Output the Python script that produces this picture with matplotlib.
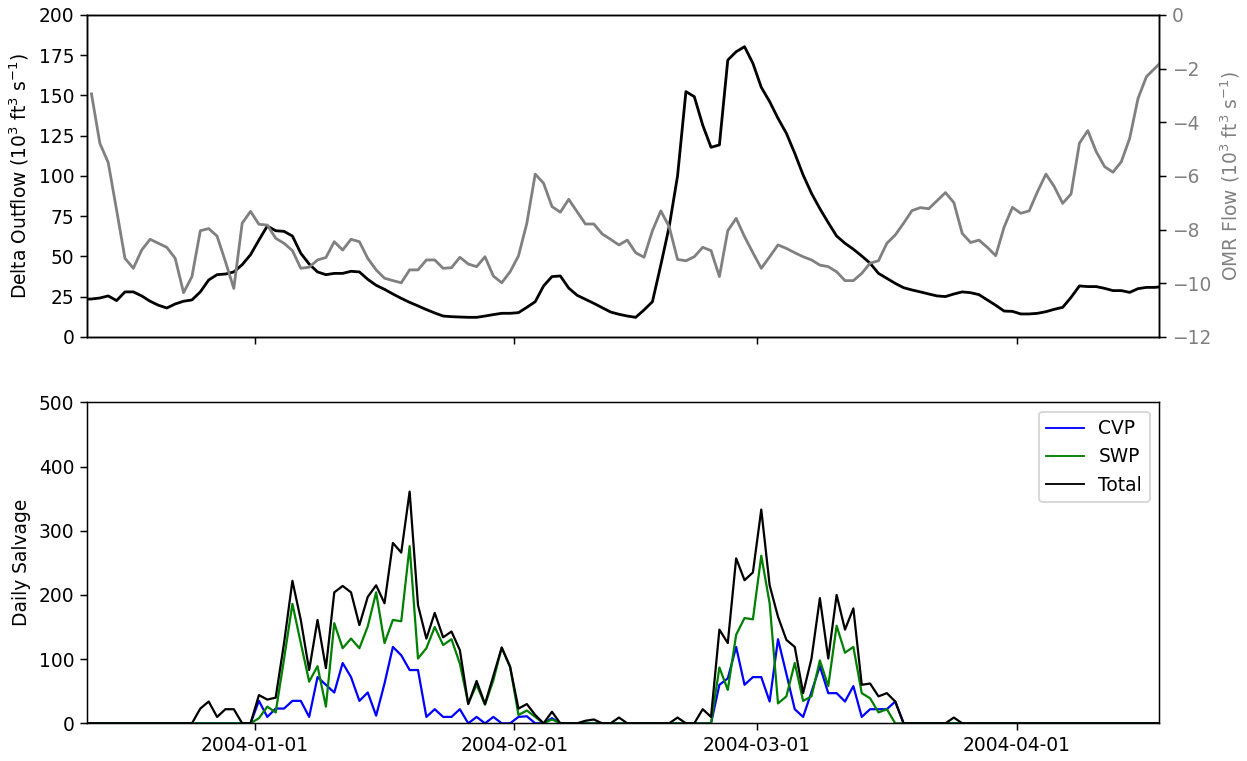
import numpy as np
import pandas as pd
import matplotlib
matplotlib.use("Agg")
import matplotlib.pyplot as plt
import matplotlib.dates as mdates
from matplotlib.lines import Line2D

# daily values, first entry 2003-12-11 (noon), last 2004-04-18 (noon)
dates = pd.date_range("2003-12-11 12:00", periods=130, freq="D")

delta_outflow = [
    23.4,
    23.6, 24.2, 25.5, 22.6, 28.0, 28.0, 25.5, 22.2, 19.7, 18.0,
    20.5, 22.2, 23.0, 28.0, 35.4, 38.7, 39.1, 40.4, 44.9, 51.1,
    60.2, 68.9, 66.0, 65.6, 62.7, 52.0, 45.3, 40.4, 38.7, 39.5,
    39.5, 40.8, 40.4, 35.8, 32.1, 29.6, 26.7, 24.0, 21.5, 19.3,
    17.0, 14.9, 13.0, 12.6, 12.4, 12.2, 12.2, 13.0, 13.9, 14.7,
    14.7, 15.1, 18.4, 21.9, 31.7, 37.5, 37.9, 30.4, 25.9, 23.4,
    20.9, 18.2, 15.5, 14.1, 13.0, 12.2, 16.8, 21.9, 44.7, 68.5,
    100.0, 152.4, 149.3, 131.7, 117.8, 119.3, 172.0, 177.2, 180.3, 170.0,
    155.1, 146.2, 135.8, 126.5, 114.1, 100.6, 89.2, 79.7, 71.0, 62.7,
    58.2, 54.5, 50.3, 45.8, 39.5, 36.4, 33.3, 30.6, 29.2, 28.0,
    26.7, 25.5, 25.1, 26.7, 28.0, 27.5, 26.3, 23.0, 19.7, 16.1,
    15.9, 14.3, 14.3, 14.7, 15.7, 17.2, 18.4, 24.6, 31.7, 31.3,
    31.3, 30.2, 28.8, 28.8, 27.7, 30.0, 30.8, 30.8, 31.3,
]

omr_flow = [
    np.nan,
    -2.94, -4.78, -5.50, -7.27, -9.07, -9.44, -8.76, -8.36, -8.51, -8.66,
    -9.07, -10.35, -9.75, -8.04, -7.96, -8.24, -9.19, -10.19, -7.76, -7.32,
    -7.80, -7.83, -8.32, -8.51, -8.78, -9.44, -9.40, -9.13, -9.04, -8.45,
    -8.76, -8.36, -8.45, -9.07, -9.50, -9.81, -9.90, -9.98, -9.50, -9.50,
    -9.13, -9.13, -9.44, -9.42, -9.03, -9.28, -9.38, -9.01, -9.73, -9.98,
    -9.57, -8.98, -7.76, -5.93, -6.27, -7.14, -7.35, -6.87, -7.33, -7.79,
    -7.79, -8.16, -8.36, -8.57, -8.39, -8.86, -9.03, -8.04, -7.30, -7.89,
    -9.11, -9.16, -9.01, -8.66, -8.78, -9.75, -8.04, -7.58, -8.26, -8.86,
    -9.44, -9.01, -8.57, -8.70, -8.86, -9.01, -9.13, -9.32, -9.38, -9.57,
    -9.90, -9.90, -9.63, -9.25, -9.16, -8.51, -8.20, -7.76, -7.29, -7.18,
    -7.22, -6.92, -6.62, -6.99, -8.14, -8.48, -8.39, -8.66, -8.97, -7.91,
    -7.17, -7.39, -7.30, -6.58, -5.93, -6.40, -7.02, -6.67, -4.78, -4.31,
    -5.09, -5.65, -5.86, -5.47, -4.60, -3.11, -2.30, -1.99, -1.68,
]

cvp = (
    [0] * 21
    + [35, 10, 23, 23, 35, 35, 10, 72, 60, 48]
    + [94, 72, 35, 48, 12, 62, 119, 106, 83, 83]
    + [10, 22, 10, 10, 22, 0, 10, 0, 10, 0]
    + [0, 10, 11, 0, 0, 8, 0, 0, 0, 0]
    + [0] * 15
    + [60, 70, 119, 60, 72]
    + [72, 34, 131, 77, 22, 10, 49, 89, 47, 47]
    + [34, 58, 10, 22, 22, 22, 34, 0, 0, 0]
    + [0] * 29
)

swp = (
    [0] * 21
    + [8, 26, 17, 100, 186, 125, 65, 89, 26, 156]
    + [117, 132, 117, 151, 204, 125, 161, 159, 276, 101]
    + [117, 150, 122, 131, 93, 31, 60, 29, 67, 118]
    + [88, 13, 20, 10, 0, 6, 0, 0, 0, 0]
    + [0] * 15
    + [87, 52, 138, 164, 162]
    + [261, 187, 31, 42, 94, 35, 42, 98, 58, 152]
    + [110, 119, 47, 39, 17, 22, 0, 0, 0, 0]
    + [0] * 29
)

total = (
    [0] * 14
    + [23, 34, 10, 22, 22, 0, 0]
    + [44, 37, 40, 125, 222, 161, 83, 161, 86, 204]
    + [214, 204, 153, 197, 215, 187, 281, 266, 361, 184]
    + [132, 172, 134, 143, 114, 30, 66, 30, 74, 118]
    + [88, 23, 30, 13, 0, 18, 0, 0, 0, 4]
    + [6, 0, 0, 9, 0, 0, 0, 0, 0, 0]
    + [9, 0, 0, 22, 10, 146, 125, 257, 223, 235]
    + [333, 215, 166, 130, 119, 47, 101, 195, 101, 200]
    + [146, 179, 60, 62, 42, 47, 34, 0, 0, 0]
    + [0, 0, 0, 9, 0, 0, 0, 0, 0, 0]
    + [0] * 19
)

x_start = pd.Timestamp("2003-12-12")
x_end = pd.Timestamp("2004-04-18")

DPI = 134
fig = plt.figure(figsize=(1247 / DPI, 761 / DPI), dpi=DPI)

ax1 = fig.add_axes([0.0700, 0.5572, 0.8594, 0.4231])
ax3 = fig.add_axes([0.0700, 0.0495, 0.8594, 0.4218], sharex=ax1)

ax1.plot(dates, delta_outflow, color="black", lw=1.5)
ax1.set_ylim(0, 200)
ax1.set_yticks(np.arange(0, 201, 25))
ax1.set_ylabel("Delta Outflow (10$^3$ ft$^3$ s$^{-1}$)")
ax1.tick_params(labelbottom=False)

ax2 = ax1.twinx()
ax2.plot(dates, omr_flow, color="gray", lw=1.5)
ax2.set_ylim(-12, 0)
ax2.set_yticks(np.arange(-12, 1, 2))
ax2.set_ylabel("OMR Flow (10$^3$ ft$^3$ s$^{-1}$)", color="gray")
ax2.tick_params(axis="y", labelcolor="gray")

ax3.plot(dates, cvp, color="blue", lw=1.2)
ax3.plot(dates, swp, color="green", lw=1.2)
ax3.plot(dates, total, color="black", lw=1.2)
ax3.set_ylim(0, 500)
ax3.set_yticks(np.arange(0, 501, 100))
ax3.set_ylabel("Daily Salvage")

handles = [Line2D([], [], color=c, lw=1.0) for c in ("blue", "green", "black")]
ax3.legend(handles, ["CVP", "SWP", "Total"], loc="upper right")

ax1.set_xlim(x_start, x_end)
ax3.xaxis.set_major_locator(mdates.MonthLocator(bymonthday=1))
ax3.xaxis.set_major_formatter(mdates.DateFormatter("%Y-%m-%d"))

fig.savefig("out.png", dpi=DPI)
